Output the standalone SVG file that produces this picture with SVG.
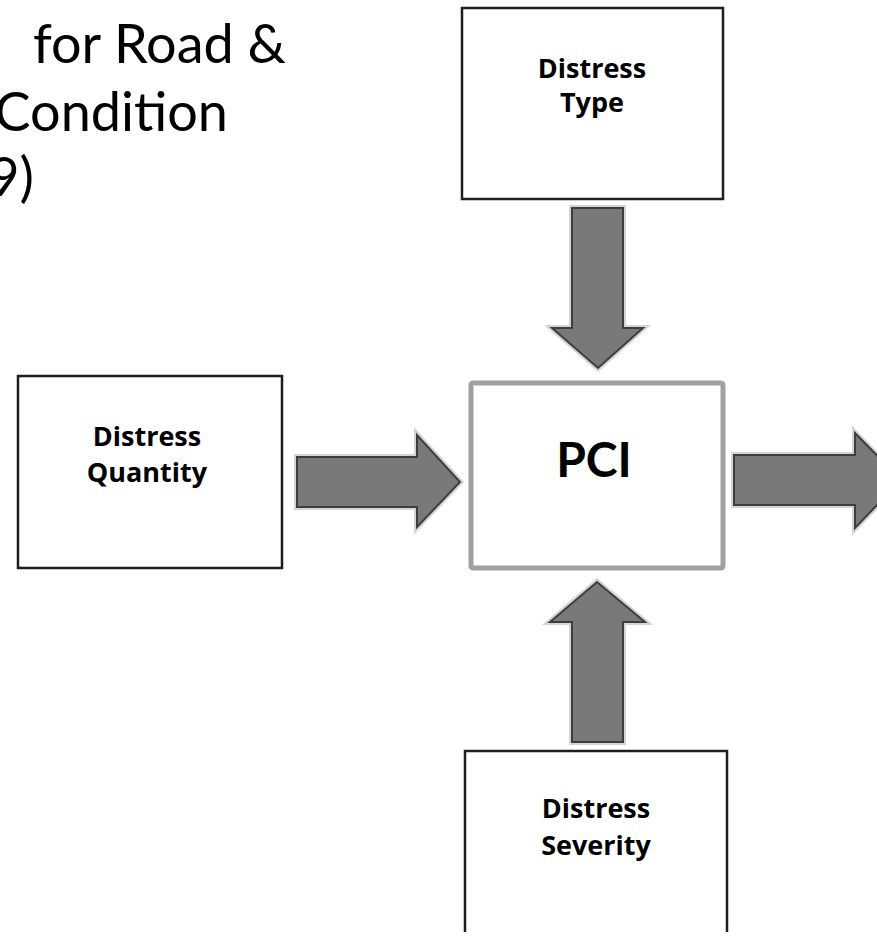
<svg xmlns="http://www.w3.org/2000/svg" width="877" height="939" viewBox="0 0 877 939">
<defs>
<style>
.box{fill:#fff;stroke:#1e1e1e;stroke-width:2.5}
.pci{fill:#fff;stroke:#a0a0a0;stroke-width:5}
.lbl{font-family:"Open Sans",Lato,sans-serif;font-weight:bold;font-size:27px;fill:#000;text-anchor:middle}
.big{font-family:Lato,"Open Sans",sans-serif;font-weight:bold;font-size:48px;fill:#000;text-anchor:middle}
.title{font-family:Lato,"Open Sans",sans-serif;font-size:54px;fill:#000;text-anchor:end}
.glow{fill:none;stroke:#d4d4d4;stroke-width:6;stroke-linejoin:miter}
.arr{fill:#797979;stroke:#3e3e3e;stroke-width:2;stroke-linejoin:miter}
</style>
</defs>
<rect width="877" height="939" fill="#fff"/>
<g id="title">
<text class="title" x="286" y="63">for Road &amp;</text>
<text class="title" x="228" y="131">Condition</text>
<text class="title" x="34" y="196">9)</text>
</g>
<g id="node-type">
<rect class="box" x="462" y="8" width="261" height="191"/>
<text class="lbl" x="592" y="78">Distress</text>
<text class="lbl" x="592" y="112">Type</text>
</g>
<g id="node-quantity">
<rect class="box" x="18" y="376" width="264" height="192"/>
<text class="lbl" x="147" y="446">Distress</text>
<text class="lbl" x="147" y="482">Quantity</text>
</g>
<g id="node-pci">
<rect class="pci" x="471" y="383" width="252" height="185" rx="2"/>
<text class="big" x="594" y="477">PCI</text>
</g>
<g id="node-severity">
<path class="box" d="M465,932 V751 H727 V932"/>
<text class="lbl" x="596" y="818">Distress</text>
<text class="lbl" x="596" y="855">Severity</text>
</g>
<g id="connectors">
<path class="glow" d="M572,208 H623 V328 H643 L598,368 L552,328 H572 Z"/>
<path class="arr" d="M572,208 H623 V328 H643 L598,368 L552,328 H572 Z"/>
<path class="glow" d="M572,742 H623 V622 H645 L597,582 L550,622 H572 Z"/>
<path class="arr" d="M572,742 H623 V622 H645 L597,582 L550,622 H572 Z"/>
<path class="glow" d="M297,457 H417 V435 L460,482 L417,527 V507 H297 Z"/>
<path class="arr" d="M297,457 H417 V435 L460,482 L417,527 V507 H297 Z"/>
<path class="glow" d="M734,455 H855 V433 L901,480 L855,528 V505 H734 Z"/>
<path class="arr" d="M734,455 H855 V433 L901,480 L855,528 V505 H734 Z"/>
</g>
</svg>
